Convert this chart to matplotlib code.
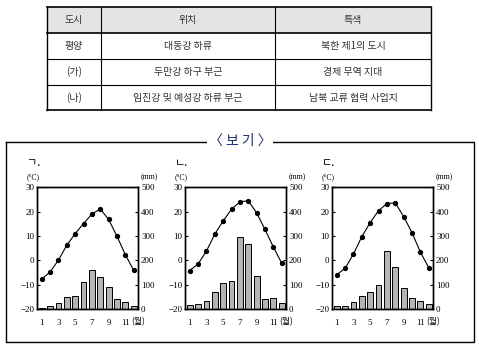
import matplotlib
matplotlib.use("Agg")
import matplotlib.pyplot as plt
from matplotlib.patches import Rectangle

months = list(range(1, 13))
month_ticks = [1, 3, 5, 7, 9, 11]
month_unit = "(월)"
temp_ticks = [-20, -10, 0, 10, 20, 30]
prec_ticks = [0, 100, 200, 300, 400, 500]

panel_labels = ["ㄱ.", "ㄴ.", "ㄷ."]
temp_a = [-7.7, -4.8, 0.1, 6.2, 11.0, 15.1, 19.0, 21.1, 16.8, 9.9, 2.3, -4.1]
prec_a = [3, 11, 23, 48, 52, 110, 159, 130, 89, 40, 27, 11]
temp_b = [-4.2, -1.5, 3.8, 10.8, 16.2, 21.0, 24.0, 24.5, 19.5, 12.7, 5.5, -1.2]
prec_b = [15, 19, 32, 68, 105, 115, 295, 266, 134, 41, 45, 23]
temp_c = [-5.9, -3.3, 2.6, 9.7, 15.5, 20.4, 23.3, 23.6, 18.0, 11.4, 3.4, -3.0]
prec_c = [11, 11, 27, 52, 68, 97, 237, 171, 85, 45, 32, 19]

table_header = ["도시", "위치", "특색"]
table_rows = [
    ["평양", "대동강 하류", "북한 제1의 도시"],
    ["(가)", "두만강 하구 부근", "경제 무역 지대"],
    ["(나)", "임진강 및 예성강 하류 부근", "남북 교류 협력 사업지"],
]
box_title = "〈 보 기 〉"

W, H = 479, 352
KFONT = ["Noto Sans CJK KR", "DejaVu Sans"]
SFONT = ["Liberation Serif", "Noto Sans CJK KR"]

fig = plt.figure(figsize=(W / 100, H / 100), dpi=100)
bg = fig.add_axes([0, 0, 1, 1])
bg.set_xlim(0, W)
bg.set_ylim(H, 0)
bg.axis("off")

# ---- table ----
tx0, tx1 = 47, 431
col_x = [47, 101, 275, 431]
row_y = [7, 33, 59, 85, 110]
bg.add_patch(Rectangle((tx0, row_y[0]), tx1 - tx0, row_y[1] - row_y[0],
                       facecolor="#e4e4e4", edgecolor="none", zorder=0))
for y in row_y:
    lw = 1.2 if y in (row_y[0], row_y[-1], row_y[1]) else 0.8
    bg.plot([tx0, tx1], [y, y], color="black", lw=lw)
for x in col_x:
    bg.plot([x, x], [row_y[0], row_y[-1]], color="black", lw=1.0 if x in (tx0, tx1) else 0.8)
for r, row in enumerate([table_header] + table_rows):
    yc = (row_y[r] + row_y[r + 1]) / 2
    for c, txt in enumerate(row):
        xc = (col_x[c] + col_x[c + 1]) / 2
        bg.text(xc, yc, txt, ha="center", va="center", fontsize=7.2,
                family=KFONT, color="#333333")

# ---- box ----
bx0, bx1, by0, by1 = 6, 474, 142, 342
bg.plot([bx0, bx1, bx1, bx0, bx0], [by0, by0, by1, by1, by0], color="black", lw=1.0)
bg.text(240, 141, box_title, ha="center", va="center", fontsize=10,
        family=KFONT, color="#1a2a6c",
        bbox=dict(facecolor="white", edgecolor="none", pad=1.5))

# ---- climate charts ----
panels = [(temp_a, prec_a), (temp_b, prec_b), (temp_c, prec_c)]
lefts = [37.3, 185.3, 332.3]
aw = 101.0
atop, abot = 187.3, 309.0

for i, (temps, precs) in enumerate(panels):
    L = lefts[i]
    ax = fig.add_axes([L / W, 1 - abot / H, aw / W, (abot - atop) / H])
    ax2 = ax.twinx()
    ax2.bar(months, precs, width=0.7, color="#b4b4b4", edgecolor="black", linewidth=0.7)
    ax2.set_ylim(0, 500)
    ax2.set_yticks(prec_ticks)
    ax.plot(months, temps, color="black", lw=0.8, marker="o", markersize=2.8)
    ax.set_ylim(-20, 30)
    ax.set_xlim(0.47, 12.55)
    ax.set_yticks(temp_ticks)
    ax.set_yticklabels(["\u2212" + str(-t) if t < 0 else str(t) for t in temp_ticks])
    ax.set_xticks(month_ticks)
    ax.set_xticklabels([str(m) for m in month_ticks])
    ax.set_zorder(ax2.get_zorder() + 1)
    ax.patch.set_visible(False)
    for a in (ax, ax2):
        for s in a.spines.values():
            s.set_linewidth(1.0)
    ax.tick_params(axis="y", direction="in", length=2.5, width=0.8, labelsize=6.5, pad=2)
    ax2.tick_params(axis="y", direction="in", length=2.5, width=0.8, labelsize=6.5, pad=2)
    ax.tick_params(axis="x", length=0, labelsize=6.5, pad=7)
    for lab in ax.get_xticklabels() + ax.get_yticklabels() + ax2.get_yticklabels():
        lab.set_family(SFONT)
    bg.text(L + 94, 322, month_unit, ha="left", va="center", fontsize=6.3, family=KFONT)
    # panel labels
    bg.text(L - 10, 163, panel_labels[i], ha="left", va="center", fontsize=8, family=KFONT)
    bg.text(L - 4, 177, "(°C)", ha="center", va="center", fontsize=5.5, family=SFONT)
    bg.text(L + aw + 11, 177, "(mm)", ha="center", va="center", fontsize=5.5, family=SFONT)

fig.savefig("out.png", dpi=100)
